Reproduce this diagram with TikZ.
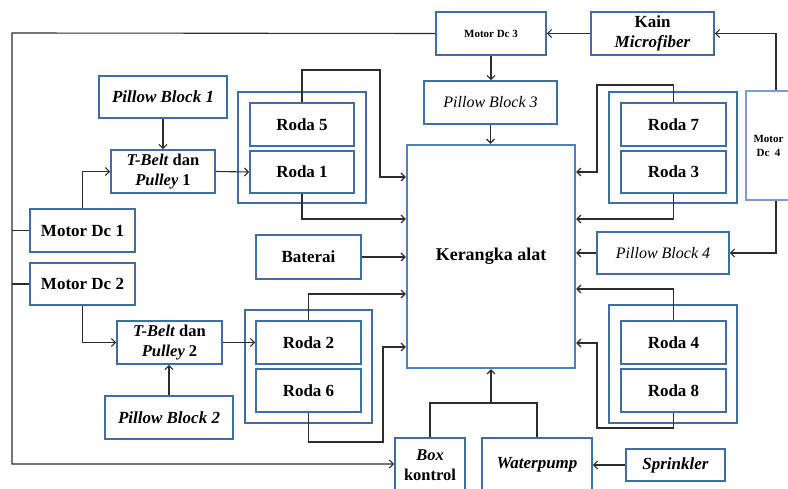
\documentclass[tikz,border=0pt]{standalone}
\usepackage{fontspec}
\setmainfont{Liberation Serif}
\usetikzlibrary{arrows.meta}
\definecolor{boxblue}{RGB}{65,110,160}
\definecolor{kerblue}{RGB}{79,129,189}
\definecolor{lightblue}{RGB}{125,155,205}
\definecolor{linegray}{RGB}{45,45,45}
\tikzset{
  blk/.style={draw=boxblue, line width=1.6pt, fill=white, inner sep=0pt, align=center,
    font=\bfseries\fontsize{17}{20}\selectfont},
  grp/.style={draw=boxblue, line width=1.6pt, inner sep=0pt},
  midtxt/.style={font=\bfseries\fontsize{16.5}{20}\selectfont},
  pbtxt/.style={font=\itshape\fontsize{16}{19}\selectfont},
  smalltxt/.style={font=\bfseries\fontsize{11}{14}\selectfont},
  conn/.style={draw=linegray, line width=1.1pt, -{Straight Barb[length=4pt,width=8pt]}},
  plainline/.style={draw=linegray, line width=1.1pt},
}
\begin{document}
\begin{tikzpicture}[x=1pt,y=-1pt]
\clip (0,0) rectangle (788,489);
\fill[white] (0,0) rectangle (788,489);

% group frames
\node[grp, minimum width=128pt, minimum height=111pt] (g1) at (302,147.5) {};
\node[grp, minimum width=127pt, minimum height=113pt] (g2) at (308.5,366.5) {};
\node[grp, minimum width=128pt, minimum height=111pt] (g3) at (673,147.5) {};
\node[grp, minimum width=128pt, minimum height=118pt] (g4) at (673,364) {};

% left side
\node[blk, minimum width=128pt, minimum height=42pt] (pb1) at (163,97) {\textit{Pillow Block 1}};
\node[blk, midtxt, minimum width=104pt, minimum height=43pt] (tb1) at (163,171.5) {\textit{T-Belt} dan\\\textit{Pulley} 1};
\node[blk, minimum width=104pt, minimum height=43pt] (r5) at (302,124.5) {Roda 5};
\node[blk, minimum width=104pt, minimum height=42pt] (r1) at (302,172) {Roda 1};
\node[blk, minimum width=105pt, minimum height=43pt] (md1) at (82.5,230.5) {Motor Dc 1};
\node[blk, minimum width=105pt, minimum height=42pt] (md2) at (82.5,284) {Motor Dc 2};
\node[blk, minimum width=105pt, minimum height=44pt] (bat) at (308.5,257) {Baterai};
\node[blk, midtxt, minimum width=105pt, minimum height=43pt] (tb2) at (169.5,342.5) {\textit{T-Belt} dan\\\textit{Pulley} 2};
\node[blk, minimum width=128pt, minimum height=43pt] (pb2) at (169,417.5) {\textit{Pillow Block 2}};
\node[blk, minimum width=105pt, minimum height=43pt] (r2) at (308.5,342.5) {Roda 2};
\node[blk, minimum width=105pt, minimum height=43pt] (r6) at (308.5,390.5) {Roda 6};

% top / centre
\node[blk, smalltxt, minimum width=110pt, minimum height=43pt] (md3) at (491,33.5) {Motor Dc 3};
\node[blk, minimum width=123pt, minimum height=43pt] (kain) at (652.5,33.5) {Kain\\\textit{Microfiber}};
\node[blk, pbtxt, minimum width=133pt, minimum height=43pt] (pb3) at (490.5,102.5) {Pillow Block 3};
\node[blk, draw=kerblue, line width=2.4pt, font=\bfseries\fontsize{18}{21}\selectfont,
      minimum width=168pt, minimum height=223pt] (ker) at (491,256.5) {Kerangka alat};

% right side
\node[blk, minimum width=105pt, minimum height=43pt] (r7) at (673.5,124.5) {Roda 7};
\node[blk, minimum width=105pt, minimum height=42pt] (r3) at (673.5,172) {Roda 3};
\node[blk, draw=lightblue, line width=1.3pt, smalltxt, minimum width=45pt, minimum height=109pt] (md4) at (768.5,145.5) {Motor\\Dc\ \ 4};
\node[blk, pbtxt, minimum width=132pt, minimum height=42pt] (pb4) at (663,253) {Pillow Block 4};
\node[blk, minimum width=105pt, minimum height=43pt] (r4) at (673.5,342.5) {Roda 4};
\node[blk, minimum width=105pt, minimum height=43pt] (r8) at (673.5,390.5) {Roda 8};

% bottom
\node[blk, midtxt, minimum width=70pt, minimum height=54pt] (bk) at (430,465) {\textit{Box}\\kontrol};
\node[blk, minimum width=110pt, minimum height=54pt] (wp) at (537,465) {\textit{Waterpump}};
\node[blk, minimum width=99pt, minimum height=32pt] (spr) at (675.5,465) {\textit{Sprinkler}};

% connectors
\coordinate (bus) at (12,33);
\draw[conn] (md3.west) -- (bus) -- (12,464) -- (bk.west |- 0,464);
\draw[plainline] (12,230.5) -- (md1.west);
\draw[plainline] (12,284) -- (md2.west);
\draw[conn] (kain.west) -- (md3.east);
\draw[conn] (md4.north -| 776,0) |- (kain.east);
\draw[conn] (md4.south -| 776,0) |- (pb4.east);
\draw[conn] (pb4.west) -- (ker.east |- pb4.west);
\draw[conn] (md3.south) -- (pb3.north -| md3.south);
\draw[conn] (pb3.south) -- (pb3.south |- ker.north);
\draw[conn] (pb1.south) -- (tb1.north);
\draw[conn] (md1.north) |- (tb1.west);
\draw[conn] (tb1.east) -- (r1.west);
\draw[conn] (r5.north) |- (380,70) |- (ker.west |- 0,177);
\draw[conn] (r1.south) |- (ker.west |- 0,219);
\draw[conn] (bat.east) -- (ker.west |- bat.east);
\draw[conn] (md2.south) |- (tb2.west);
\draw[conn] (pb2.north) -- (tb2.south -| pb2.north);
\draw[conn] (tb2.east) -- (r2.west);
\draw[conn] (r2.north) |- (ker.west |- 0,294);
\draw[conn] (r6.south) |- (383,442) |- (ker.west |- 0,347);
\draw[conn] (r7.north) |- (597,85) |- (ker.east |- 0,172);
\draw[conn] (r3.south) |- (ker.east |- 0,219);
\draw[conn] (r4.north) |- (ker.east |- 0,289);
\draw[conn] (r8.south) |- (597,428) |- (ker.east |- 0,343);
\draw[plainline] (bk.north) |- (wp.north |- 0,403) -- (wp.north);
\draw[conn] (ker.south |- 0,403) -- (ker.south);
\draw[conn] (spr.west) -- (wp.east);
\end{tikzpicture}
\end{document}
